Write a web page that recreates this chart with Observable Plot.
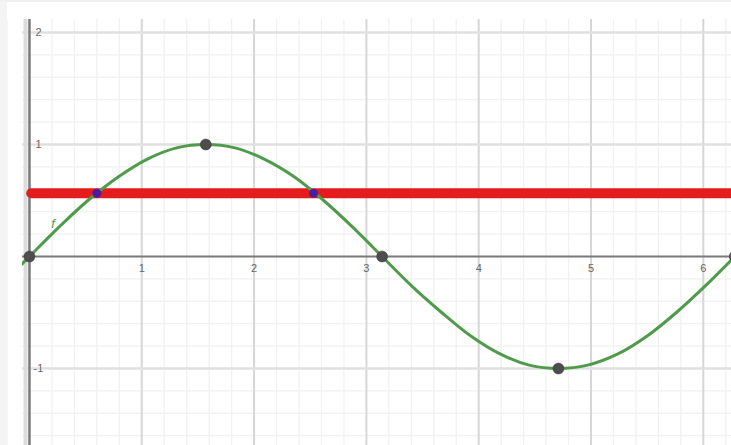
<!DOCTYPE html>
<html>
<head>
<meta charset="utf-8">
<script src="https://cdn.jsdelivr.net/npm/d3@7"></script>
<script src="https://cdn.jsdelivr.net/npm/@observablehq/plot@0.6"></script>
<style>
  html, body { margin: 0; padding: 0; background: #ffffff; }
  #wrap { position: relative; width: 731px; height: 445px; overflow: hidden; }
  #leftStrip { position: absolute; left: 0; top: 0; width: 7px; height: 445px; background: #f4f4f4; }
  #topStrip { position: absolute; left: 0; top: 0; width: 731px; height: 2px; background: #f0f0f0; }
</style>
</head>
<body>
<div id="wrap"><div id="chart"></div><div id="leftStrip"></div><div id="topStrip"></div></div>
<script>
// Curve f(x)
const curveX = [-0.07, 0, 0.26, 0.52, 0.79, 1.05, 1.31, 1.57, 1.83, 2.09, 2.36, 2.62, 2.88, 3.14, 3.40, 3.67, 3.93, 4.19, 4.45, 4.71, 4.97, 5.24, 5.50, 5.76, 6.02, 6.28];
const curveY = [-0.07, 0, 0.26, 0.5, 0.71, 0.87, 0.97, 1, 0.97, 0.87, 0.71, 0.5, 0.26, 0, -0.26, -0.5, -0.71, -0.87, -0.97, -1, -0.97, -0.87, -0.71, -0.5, -0.26, 0];
// Horizontal red line level
const lineLevel = [0.565];
// Intersection points (blue)
const interX = [0.6, 2.53];
const interY = [0.565, 0.565];
// Special points (dark gray)
const specialX = [0, 1.57, 3.14, 4.71, 6.28];
const specialY = [0, 1, 0, -1, 0];
// Tick labels
const xTickValues = [1, 2, 3, 4, 5, 6];
const xTickLabels = ["1", "2", "3", "4", "5", "6"];
const yTickValues = [2, 1, -1];
const yTickLabels = ["2", "1", "-1"];
// Grid
const xMajor = [1, 2, 3, 4, 5, 6];
const yMajor = [-1, 1, 2];
const xMinor = d3.range(-0.2, 6.4, 0.2).filter(v => Math.abs(v - Math.round(v)) > 0.01);
const yMinor = d3.range(-1.8, 2.2, 0.2).filter(v => Math.abs(v - Math.round(v)) > 0.01);

const curve = curveX.map((x, i) => ({x, y: curveY[i]}));
const inter = interX.map((x, i) => ({x, y: interY[i]}));
const special = specialX.map((x, i) => ({x, y: specialY[i]}));
const xTicks = xTickValues.map((v, i) => ({v, t: xTickLabels[i]}));
const yTicks = yTickValues.map((v, i) => ({v, t: yTickLabels[i]}));

const chart = Plot.plot({
  width: 731,
  height: 445,
  marginLeft: 22,
  marginTop: 19,
  marginRight: 0,
  marginBottom: 0,
  style: {background: "#ffffff", fontFamily: "Liberation Sans, Arial, sans-serif"},
  x: {domain: [-0.062, 6.251], axis: null},
  y: {domain: [-1.6875, 2.116], axis: null},
  marks: [
    Plot.ruleX(xMinor, {stroke: "#f1f1f1", strokeWidth: 1.3}),
    Plot.ruleY(yMinor, {stroke: "#f1f1f1", strokeWidth: 1.3}),
    Plot.ruleX(xMajor, {stroke: "#d6d6d6", strokeWidth: 2}),
    Plot.ruleY(yMajor, {stroke: "#e0e0e0", strokeWidth: 2.5}),
    Plot.ruleX([-0.035], {stroke: "#dcdcdc", strokeWidth: 4}),
    Plot.ruleY([0], {stroke: "#7a7a7a", strokeWidth: 2}),
    Plot.ruleX([0], {stroke: "#7a7a7a", strokeWidth: 2.5}),
    Plot.ruleY(lineLevel, {x1: 0.02, x2: 7, stroke: "#e41c1c", strokeWidth: 10, strokeLinecap: "round", clip: true}),
    Plot.line(curve, {x: "x", y: "y", curve: "catmull-rom", stroke: "#4f9b4c", strokeWidth: 3, clip: true}),
    Plot.dot(special, {x: "x", y: "y", r: 5.5, fill: "#4d4d4d", stroke: "#3a3a3a", strokeWidth: 0.5, clip: true}),
    Plot.dot(inter, {x: "x", y: "y", r: 4.5, fill: "#4a1c9e", clip: true}),
    Plot.text(xTicks, {x: "v", y: 0, text: "t", dy: 12, fill: "#666666", fontSize: 11}),
    Plot.text(yTicks, {x: 0, y: "v", text: "t", dx: 9, fill: "#666666", fontSize: 11}),
    Plot.text(["f"], {x: 0.21, y: 0.29, text: d => d, fill: "#4f9b4c", fontSize: 13, fontStyle: "italic"})
  ]
});
document.getElementById("chart").appendChild(chart);
</script>
</body>
</html>
